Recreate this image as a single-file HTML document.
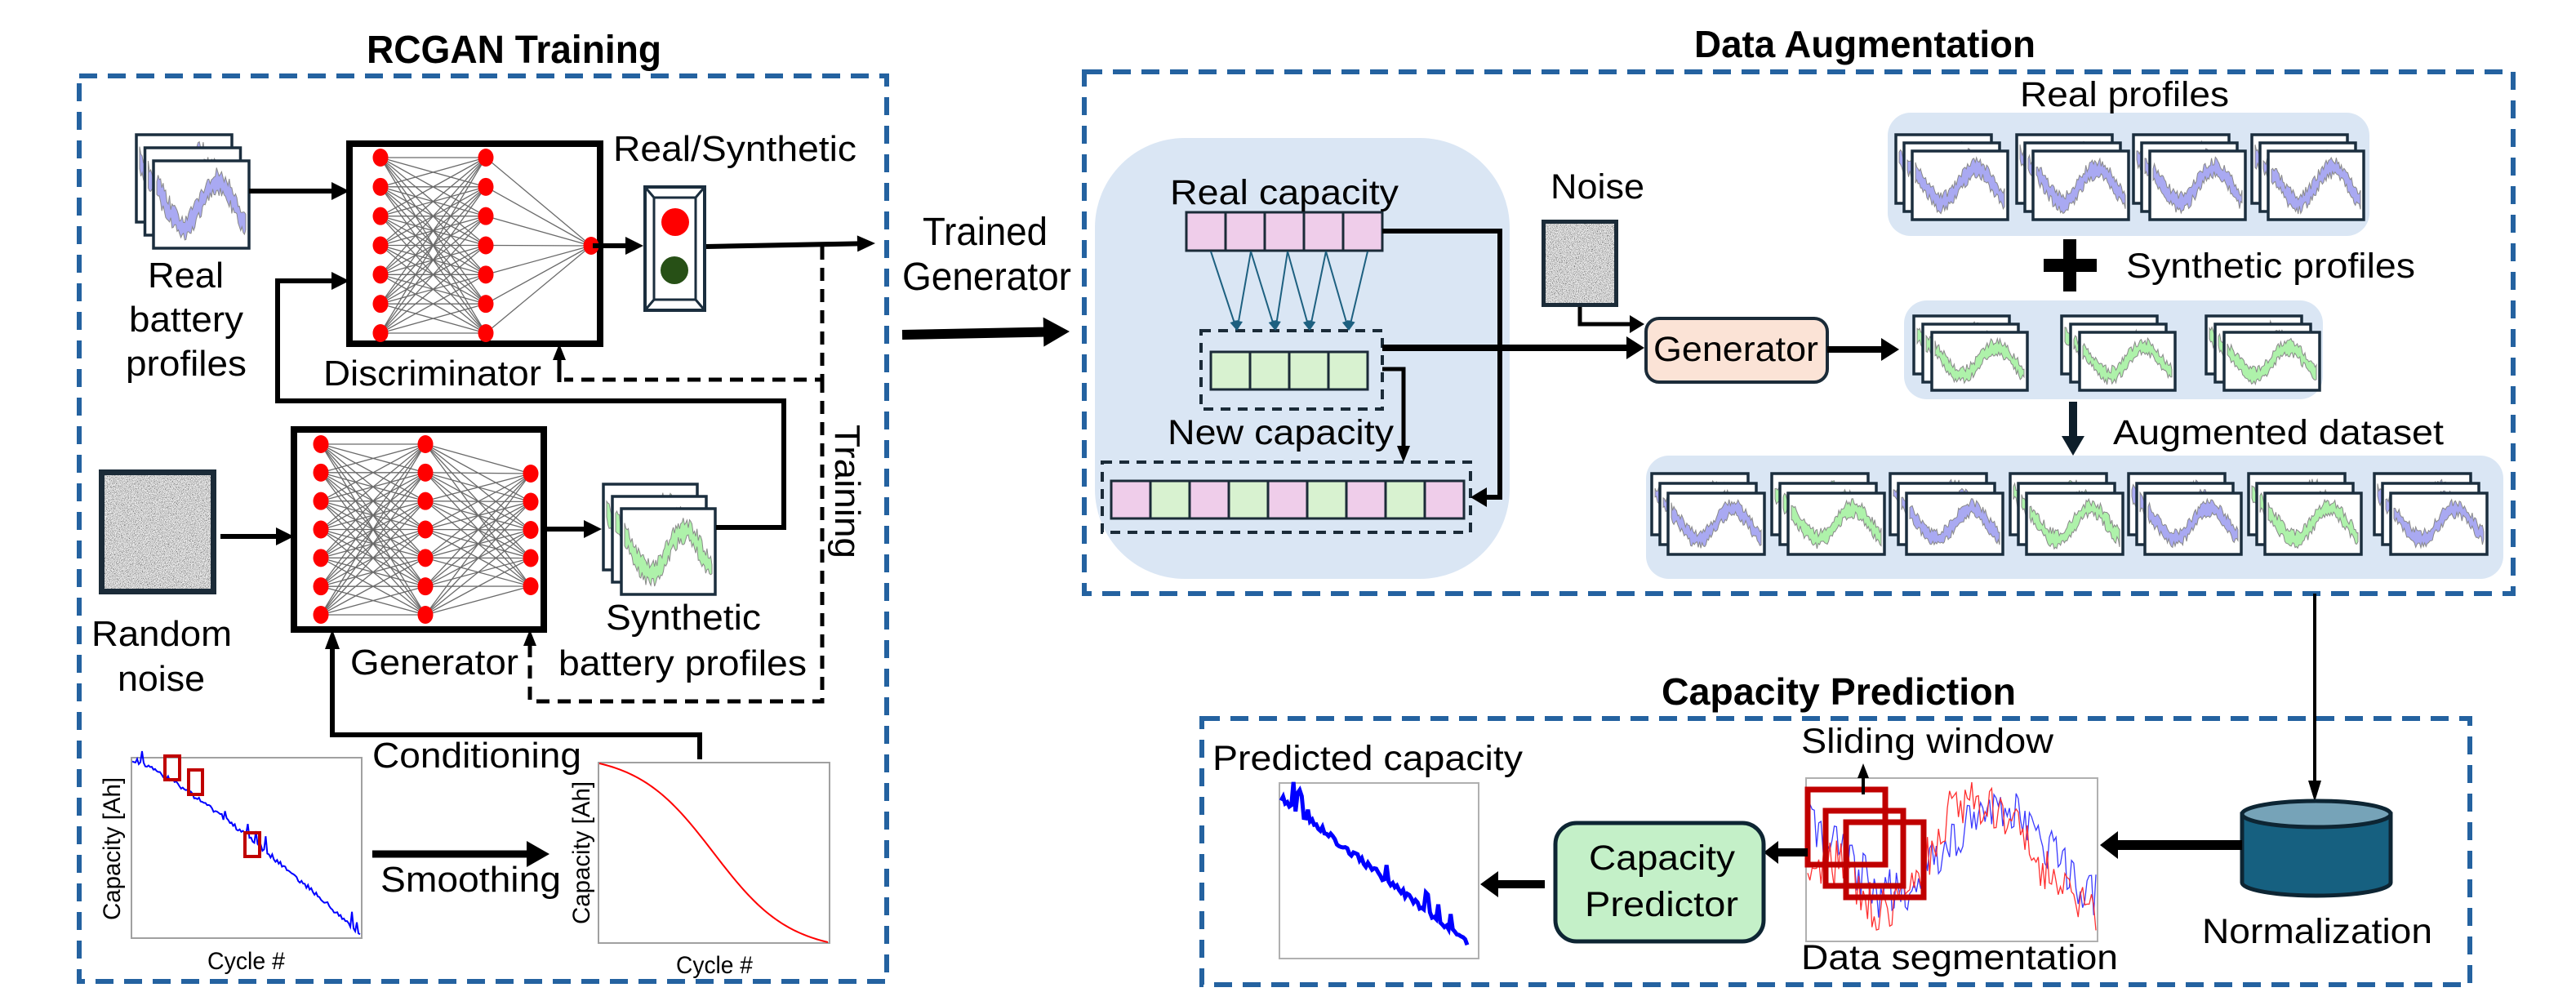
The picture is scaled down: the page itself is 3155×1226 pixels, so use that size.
<!DOCTYPE html>
<html><head><meta charset="utf-8">
<style>
html,body{margin:0;padding:0;background:#fff;}
svg{display:block;}
text{font-family:"Liberation Sans",sans-serif;fill:#000;}
.b{font-weight:bold;}
</style></head>
<body>
<svg id="svg" xmlns="http://www.w3.org/2000/svg" width="3155" height="1226" viewBox="0 0 3155 1226">
<defs>
<filter id="noise" x="0" y="0" width="100%" height="100%">
<feTurbulence type="fractalNoise" baseFrequency="1.3" numOctaves="2" seed="3"/>
<feColorMatrix type="matrix" values="2.2 0 0 0 -0.45  2.2 0 0 0 -0.45  2.2 0 0 0 -0.45  0 0 0 0 1"/>
</filter>
</defs>
<g id="g"></g>
<g id="t">
<text class="b" x="449" y="77" font-size="48" textLength="361" lengthAdjust="spacingAndGlyphs">RCGAN Training</text>
<text class="b" x="2075" y="70" font-size="46" textLength="418" lengthAdjust="spacingAndGlyphs">Data Augmentation</text>
<text class="b" x="2035" y="863" font-size="46" textLength="434" lengthAdjust="spacingAndGlyphs">Capacity Prediction</text>
<text x="751" y="197" font-size="44" textLength="298" lengthAdjust="spacingAndGlyphs">Real/Synthetic</text>
<text x="181" y="352" font-size="44" textLength="93" lengthAdjust="spacingAndGlyphs">Real</text>
<text x="158" y="406" font-size="44" textLength="140" lengthAdjust="spacingAndGlyphs">battery</text>
<text x="154" y="460" font-size="44" textLength="148" lengthAdjust="spacingAndGlyphs">profiles</text>
<text x="396" y="472" font-size="44" textLength="267" lengthAdjust="spacingAndGlyphs">Discriminator</text>
<text x="112" y="791" font-size="44" textLength="172" lengthAdjust="spacingAndGlyphs">Random</text>
<text x="144" y="846" font-size="44" textLength="107" lengthAdjust="spacingAndGlyphs">noise</text>
<text x="429" y="826" font-size="44" textLength="206" lengthAdjust="spacingAndGlyphs">Generator</text>
<text x="742" y="771" font-size="44" textLength="190" lengthAdjust="spacingAndGlyphs">Synthetic</text>
<text x="684" y="827" font-size="44" textLength="304" lengthAdjust="spacingAndGlyphs">battery profiles</text>
<text x="0" y="0" font-size="44" textLength="164" lengthAdjust="spacingAndGlyphs" transform="translate(1023,520) rotate(90)">Training</text>
<text x="456" y="940" font-size="44" textLength="256" lengthAdjust="spacingAndGlyphs">Conditioning</text>
<text x="466" y="1092" font-size="44" textLength="221" lengthAdjust="spacingAndGlyphs">Smoothing</text>
<text x="254" y="1187" font-size="30" textLength="95" lengthAdjust="spacingAndGlyphs">Cycle #</text>
<text x="828" y="1192" font-size="30" textLength="94" lengthAdjust="spacingAndGlyphs">Cycle #</text>
<text x="0" y="0" font-size="30" textLength="175" lengthAdjust="spacingAndGlyphs" transform="translate(147,1127) rotate(-90)">Capacity [Ah]</text>
<text x="0" y="0" font-size="30" textLength="175" lengthAdjust="spacingAndGlyphs" transform="translate(722,1132) rotate(-90)">Capacity [Ah]</text>
<text x="1130" y="300" font-size="48" textLength="153" lengthAdjust="spacingAndGlyphs">Trained</text>
<text x="1105" y="355" font-size="48" textLength="207" lengthAdjust="spacingAndGlyphs">Generator</text>
<text x="1433" y="250" font-size="43" textLength="280" lengthAdjust="spacingAndGlyphs">Real capacity</text>
<text x="1430" y="544" font-size="43" textLength="277" lengthAdjust="spacingAndGlyphs">New capacity</text>
<text x="1899" y="243" font-size="43" textLength="115" lengthAdjust="spacingAndGlyphs">Noise</text>
<text x="2025" y="442" font-size="43" textLength="202" lengthAdjust="spacingAndGlyphs">Generator</text>
<text x="2474" y="130" font-size="43" textLength="256" lengthAdjust="spacingAndGlyphs">Real profiles</text>
<text x="2604" y="340" font-size="43" textLength="354" lengthAdjust="spacingAndGlyphs">Synthetic profiles</text>
<text x="2588" y="544" font-size="43" textLength="405" lengthAdjust="spacingAndGlyphs">Augmented dataset</text>
<text x="2206" y="922" font-size="43" textLength="309" lengthAdjust="spacingAndGlyphs">Sliding window</text>
<text x="2206" y="1187" font-size="43" textLength="388" lengthAdjust="spacingAndGlyphs">Data segmentation</text>
<text x="2697" y="1155" font-size="43" textLength="282" lengthAdjust="spacingAndGlyphs">Normalization</text>
<text x="1946" y="1065" font-size="43" textLength="179" lengthAdjust="spacingAndGlyphs">Capacity</text>
<text x="1941" y="1122" font-size="43" textLength="188" lengthAdjust="spacingAndGlyphs">Predictor</text>
<text x="1485" y="943" font-size="43" textLength="380" lengthAdjust="spacingAndGlyphs">Predicted capacity</text>
</g>
</svg>
<script>
(function(){
var NS="http://www.w3.org/2000/svg";
var G=document.getElementById('g');
function el(tag,a,parent){var e=document.createElementNS(NS,tag);for(var k in a)e.setAttribute(k,a[k]);(parent||G).appendChild(e);return e;}
var seed=12345;function rnd(){seed|=0;seed=seed+0x6D2B79F5|0;var t=Math.imul(seed^seed>>>15,1|seed);t=t+Math.imul(t^t>>>7,61|t)^t;return((t^t>>>14)>>>0)/4294967296;}
function rect(x,y,w,h,f,s,sw,extra){var a={x:x,y:y,width:w,height:h,fill:f||'none'};if(s){a.stroke=s;a['stroke-width']=sw||2;}for(var k in extra)a[k]=extra[k];return el('rect',a);}
function pl(pts,c,w,dash){var a={points:pts.map(function(p){return p[0]+','+p[1];}).join(' '),fill:'none',stroke:c||'#000','stroke-width':w||2,'stroke-linejoin':'miter'};if(dash)a['stroke-dasharray']=dash;return el('polyline',a);}
function arrow(pts,w,hl,hw,c,dash){c=c||'#000';var n=pts.length,t=pts[n-1],p=pts[n-2];var dx=t[0]-p[0],dy=t[1]-p[1],L=Math.sqrt(dx*dx+dy*dy);var ux=dx/L,uy=dy/L;var b=[t[0]-ux*hl*0.9,t[1]-uy*hl*0.9];var q=pts.slice(0,n-1).concat([b]);pl(q,c,w,dash);var bx=t[0]-ux*hl,by=t[1]-uy*hl;el('polygon',{points:t[0]+','+t[1]+' '+(bx-uy*hw/2)+','+(by+ux*hw/2)+' '+(bx+uy*hw/2)+','+(by-ux*hw/2),fill:c});}
function panel(x,y,w,h,r){rect(x,y,w,h,'#dae6f4',null,0,{rx:r,ry:r});}
function signal(x,y,w,h,col){var N=70,up=[],lo=[];for(var i=0;i<=N;i++){var t=i/N;var c=0.5+0.26*Math.sin(2*Math.PI*(1.3*t-0.14));var a=0.04+0.14*rnd(),b=0.04+0.14*rnd();var px=x+2+t*(w-4);up.push([px,y+h*Math.max(0.06,c-a)]);lo.push([px,y+h*Math.min(0.96,c+b)]);}
var pts=up.concat(lo.reverse());el('polygon',{points:pts.map(function(p){return p[0].toFixed(1)+','+p[1].toFixed(1);}).join(' '),fill:col,stroke:'#8a8a8a','stroke-width':1});}
function stack(x,y,w,h,dx,dy,col,n){n=n||3;for(var i=0;i<n;i++){var fx=x+i*dx,fy=y+i*dy;rect(fx,fy,w,h,'#fff','#1b2e3e',3.5);signal(fx+2,fy+2,w-4,h-4,col);}}
var BL='#a9a9f2',GR='#aef2aa';
function dbox(x,y,w,h){rect(x,y,w,h,'none','#2462a0',6,{'stroke-dasharray':'22 13'});}
dbox(97,93,989,1109);dbox(1328,88,1750,639);dbox(1472,880,1553,326);
panel(1341,169,508,540,110);panel(2312,138,590,151,28);panel(2332,368,513,121,28);panel(2016,558,1050,151,28);
stack(167,165,117,107,10.5,16,BL);stack(739,593,115,105,11,15,GR);
function noise(x,y,w,h,bw){rect(x,y,w,h,'#aaa');el('rect',{x:x,y:y,width:w,height:h,filter:'url(#noise)',fill:'#fff'});rect(x+bw/2,y+bw/2,w-bw,h-bw,'none','#1b2b38',bw);}
noise(121,575,144,153,7);noise(1888,269,94,107,5);
function net(cols){for(var i=0;i<cols.length-1;i++){var A=cols[i],B=cols[i+1];A.ys.forEach(function(a){B.ys.forEach(function(b){el('line',{x1:A.x,y1:a,x2:B.x,y2:b,stroke:'#6a6a6a','stroke-width':1.3});});});}
cols.forEach(function(C){C.ys.forEach(function(yy){el('ellipse',{cx:C.x,cy:yy,rx:9.5,ry:11,fill:'#ff0000'});});});}
function ys(a,b,n){var r=[];for(var i=0;i<n;i++)r.push(a+(b-a)*i/(n-1));return r;}
rect(428,176,307,245,'#fff','#000',8);
net([{x:466,ys:ys(193,408,7)},{x:595,ys:ys(193,408,7)},{x:724,ys:[301]}]);
rect(360,526,306,245,'#fff','#000',8);
net([{x:393,ys:ys(544,753,7)},{x:521,ys:ys(544,753,7)},{x:650,ys:ys(580,718,5)}]);
rect(790,229,73,151,'#fff','#1b2e3e',4);rect(801,242,51,125,'none','#1b2e3e',3);
[[790,229,801,242],[863,229,852,242],[790,380,801,367],[863,380,852,367]].forEach(function(l){el('line',{x1:l[0],y1:l[1],x2:l[2],y2:l[3],stroke:'#1b2e3e','stroke-width':3});});
el('circle',{cx:827,cy:272,r:17,fill:'#ff0000'});el('circle',{cx:826,cy:331,r:17,fill:'#275016'});
arrow([[305,234],[428,234]],6,22,22);
arrow([[726,301],[788,301]],6,22,22);
arrow([[865,302],[1072,298]],6,22,20);
arrow([[270,657],[360,657]],6,22,22);
arrow([[666,648],[737,648]],6,22,22);
arrow([[877,646],[960,646],[960,491],[340,491],[340,344],[428,344]],6,22,22);
arrow([[857,930],[857,900],[407,900],[407,771]],6,24,18);
pl([[1007,302],[1007,465],[691,465]],'#000',5,'16 10');
arrow([[685,468],[685,421]],5,20,16);
pl([[1007,465],[1007,859],[649,859],[649,800]],'#000',5,'16 10');
arrow([[649,802],[649,771]],5,20,16);
arrow([[456,1046],[673,1046]],9,28,32);
arrow([[1105,410],[1310,406]],12,32,36);
rect(161,928,282,221,'#fff','#a0a0a0',2);rect(733,934,283,221,'#fff','#a0a0a0',2);
var bp=[];for(var i=0;i<=140;i++){var t=i/140;var x=162+t*279;var y=930+214*Math.pow(t,1.2)+(rnd()*6-3);if(rnd()<0.07)y-=10+rnd()*12;bp.push([x,Math.min(1148,y)]);}
pl(bp,'#0000ff',2);
[[202,926,18,29],[231,943,17,30],[300,1020,18,29]].forEach(function(r){rect(r[0],r[1],r[2],r[3],'none','#c00000',4);});
var rp=[];for(var i=0;i<=100;i++){var t=i/100;var x=734+t*280;var s=1/(1+Math.exp(-(t-0.5)*6));var s0=1/(1+Math.exp(3)),s1=1/(1+Math.exp(-3));var y=935+219*((s-s0)/(s1-s0));rp.push([x,y]);}
pl(rp,'#ff0000',2);
function cells(x,y,n,w,h,fills){for(var i=0;i<n;i++)rect(x+i*w,y,w,h,fills[i%fills.length],'#1b2b38',3);}
var PK='#efcdea',GN='#d8f2d0';
cells(1453,260,5,48,47,[PK]);
rect(1471,405,222,96,'none','#1b2b38',4,{'stroke-dasharray':'12 9'});
cells(1483,431,4,48,46,[GN]);
rect(1350,566,451,86,'none','#1b2b38',4,{'stroke-dasharray':'12 9'});
cells(1361,589,9,48,46,[PK,GN]);
var st=[1483,1532,1577,1624,1675],en=[1515,1562,1604,1652];
[[0,0],[1,0],[1,1],[2,1],[2,2],[3,2],[3,3],[4,3]].forEach(function(p){arrow([[st[p[0]],308],[en[p[1]],405]],2,12,10,'#1d6080');});
arrow([[1693,426],[2014,426]],8,22,28);
arrow([[1693,283],[1837,283],[1837,609],[1801,609]],6,20,24);
arrow([[1693,452],[1719,452],[1719,566]],5,20,16);
arrow([[1935,376],[1935,397],[2014,397]],5,18,22);
rect(2016,390,222,78,'#fbe3d6','#1b2b38',4,{rx:16,ry:16});
arrow([[2238,428],[2326,428]],8,22,28);
[2322,2470,2613,2758].forEach(function(x){stack(x,165,117,84,10,10,BL);});
[2344,2525,2702].forEach(function(x){stack(x,387,117,71,11,10,GR);});
[2023,2170,2315,2462,2607,2754,2908].forEach(function(x,i){stack(x,580,118,75,10,12,i%2?GR:BL);});
rect(2527,293,16,64,'#000');rect(2503,317,65,16,'#000');
arrow([[2539,492],[2539,558]],10,24,28,'#0d1e2a');
arrow([[2835,727],[2835,982]],4,26,16);
el('path',{d:'M2746,997 L2746,1081 A91,16 0 0 0 2928,1081 L2928,997 Z',fill:'#166080',stroke:'#0d2533','stroke-width':5});
el('ellipse',{cx:2837,cy:997,rx:91,ry:16,fill:'#76a3b8',stroke:'#0d2533','stroke-width':5});
arrow([[2746,1035],[2572,1035]],12,22,34);
rect(2212,953,357,200,'#fff','#b0b0b0',2);
function walk(x0,x1,ctrl,c){var p=[];for(var i=0;i<=130;i++){var t=i/130;var x=x0+t*(x1-x0);var k=Math.min(ctrl.length-2,Math.floor(t*(ctrl.length-1)));var f=t*(ctrl.length-1)-k;var y=ctrl[k]*(1-f)+ctrl[k+1]*f+(rnd()*60-30);p.push([x,Math.max(958,Math.min(1150,y))]);}pl(p,c,1.3);}
walk(2214,2567,[1000,1040,1100,1080,1030,990,1000,1060,1100],'#3a3aff');
walk(2214,2567,[1050,1060,1120,1080,990,980,1030,1090,1110],'#ff3030');
[[2214,967],[2236,993],[2261,1007]].forEach(function(r){rect(r[0],r[1],95,92,'none','#c00000',7);});
arrow([[2282,973],[2282,935]],4,18,14);
arrow([[2214,1044],[2160,1044]],10,18,28);
rect(1905,1008,255,145,'#c4f0c8','#0d2533',5,{rx:26,ry:26});
arrow([[1892,1083],[1813,1083]],10,22,32);
rect(1567,959,244,215,'#fff','#b0b0b0',2);
var pp=[];for(var i=0;i<=90;i++){var t=i/90;var x=1569+t*228;var y=977+t*178+(rnd()*8-4);if(rnd()<0.12)y-=12+rnd()*18;pp.push([x,Math.min(1165,y)]);}
pl(pp,'#0000ff',5);
document.getElementById('svg').appendChild(document.getElementById('t'));
})();
</script>
</body></html>
